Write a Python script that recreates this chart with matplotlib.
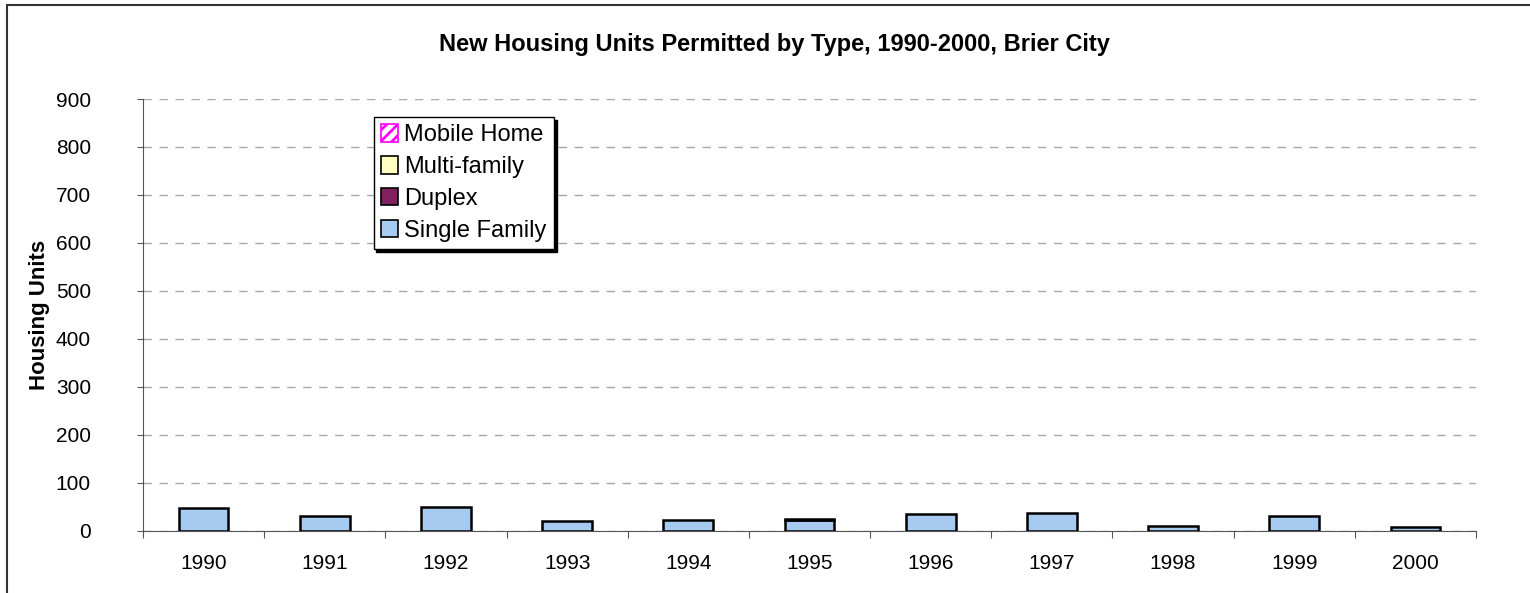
import numpy as np
import matplotlib
matplotlib.use("Agg")
import matplotlib.pyplot as plt
from matplotlib.patches import Rectangle

plt.rcParams['font.family'] = ['Liberation Sans', 'DejaVu Sans']
plt.rcParams['hatch.linewidth'] = 2.0

# data
years = ["1990", "1991", "1992", "1993", "1994", "1995",
         "1996", "1997", "1998", "1999", "2000"]
single_family = [48, 30, 50, 21, 23, 23, 35, 37, 9, 30, 7]
duplex = [0, 0, 0, 0, 0, 2, 0, 0, 0, 0, 0]
multi_family = [0, 0, 0, 0, 0, 0, 0, 0, 0, 0, 0]
mobile_home = [0, 0, 0, 0, 0, 0, 0, 0, 0, 0, 0]

fig = plt.figure(figsize=(15.3, 5.93), dpi=100)
ax = fig.add_axes([143/1530, 1 - 530.7/593, 1333/1530, 431.7/593])

# outer chart frame
fig.patches.append(Rectangle((7/1530, -0.1), 1.2, 1 - 5/593 + 0.1,
                             transform=fig.transFigure, fill=False,
                             edgecolor='#333333', linewidth=1.5))

x = np.arange(len(years))
w = 0.41
sf = np.array(single_family, dtype=float)
dp = np.array(duplex, dtype=float)
mf = np.array(multi_family, dtype=float)
mh = np.array(mobile_home, dtype=float)

def nz(a):
    # empty segments are not drawn
    return np.where(a > 0, a, np.nan)

b1 = ax.bar(x, nz(sf), w, color='#A6CAF0', edgecolor='black', linewidth=1.8,
            label='Single Family', zorder=3)
b2 = ax.bar(x, nz(dp), w, bottom=sf, color='#802060', edgecolor='black',
            linewidth=1.8, label='Duplex', zorder=3)
b3 = ax.bar(x, nz(mf), w, bottom=sf + dp, color='#FFFFC0', edgecolor='black',
            linewidth=1.8, label='Multi-family', zorder=3)
b4 = ax.bar(x, nz(mh), w, bottom=sf + dp + mf, color='white', hatch='///',
            edgecolor='#FF00FF', linewidth=1.8, label='Mobile Home', zorder=3)

ax.set_xlim(-0.5, len(years) - 0.5)
ax.set_ylim(0, 900)
ax.set_yticks(range(0, 901, 100))
ax.set_xticks(np.arange(-0.5, len(years), 1.0))
ax.set_xticklabels([])
ax.set_xticks(x, minor=True)
ax.set_xticklabels(years, minor=True)
ax.tick_params(axis='x', which='minor', length=0, pad=17, labelsize=15)
ax.tick_params(axis='x', which='major', length=5, color='#555555', direction='out')
ax.tick_params(axis='y', length=4.5, color='#555555', labelsize=15, pad=33)

ax.grid(axis='y', linestyle=(0, (6, 5.5)), color='#A8A8A8', linewidth=1)
ax.set_axisbelow(True)
for s in ['top', 'right']:
    ax.spines[s].set_visible(False)
ax.spines['left'].set_color('#555555')
ax.spines['bottom'].set_color('#555555')

ax.set_ylabel('Housing Units', fontsize=16, fontweight='bold', labelpad=4)
fig.text(774/1530, 1 - 44/593, 'New Housing Units Permitted by Type, 1990-2000, Brier City',
         ha='center', va='center', fontsize=17, fontweight='bold')

leg = ax.legend([b4, b3, b2, b1],
                ['Mobile Home', 'Multi-family', 'Duplex', 'Single Family'],
                loc='upper left', bbox_to_anchor=(0.173, 0.958),
                fontsize=17, frameon=True, fancybox=False,
                shadow={'color': 'black', 'alpha': 1},
                handlelength=0.75, handleheight=0.75, handletextpad=0.25,
                labelspacing=0.42, borderpad=0.3, borderaxespad=0)
leg.get_frame().set_edgecolor('black')
leg.get_frame().set_linewidth(1)
for h in leg.legend_handles:
    h.set_linewidth(1.2)
    if h.get_hatch():
        h.set_edgecolor('#FF00FF')

fig.savefig('out.png', dpi=100)
